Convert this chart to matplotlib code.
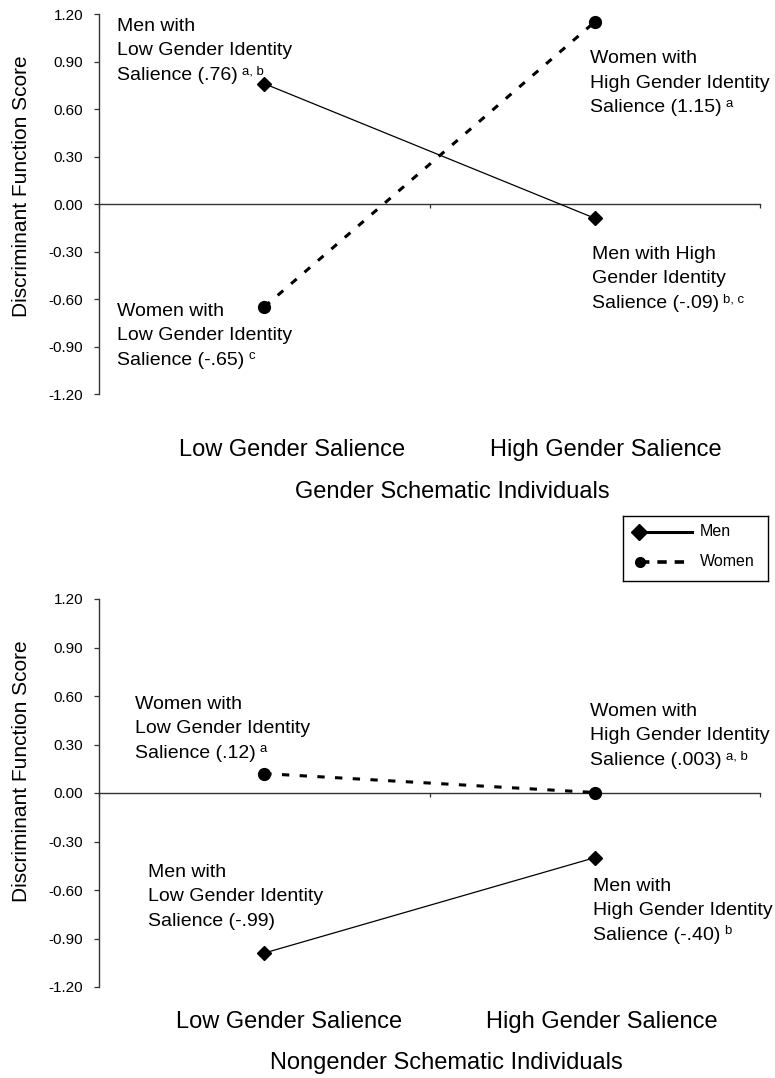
import matplotlib
matplotlib.use("Agg")
import matplotlib.pyplot as plt
from matplotlib.ticker import FixedLocator, FormatStrFormatter, NullFormatter

plt.rcParams['font.family'] = 'Liberation Sans'
plt.rcParams['axes.unicode_minus'] = False

# data
conditions = ['Low Gender Salience', 'High Gender Salience']
schematic_men = [0.76, -0.09]
schematic_women = [-0.65, 1.15]
nonschematic_men = [-0.99, -0.40]
nonschematic_women = [0.12, 0.003]
y_ticks = [-1.2, -0.9, -0.6, -0.3, 0.0, 0.3, 0.6, 0.9, 1.2]

# (label lines, superscript)
schematic_notes = [
    (['Men with', 'Low Gender Identity', 'Salience (.76)'], 'a, b'),
    (['Women with', 'High Gender Identity', 'Salience (1.15)'], 'a'),
    (['Men with High', 'Gender Identity', 'Salience (-.09)'], 'b, c'),
    (['Women with', 'Low Gender Identity', 'Salience (-.65)'], 'c'),
]
nonschematic_notes = [
    (['Women with', 'Low Gender Identity', 'Salience (.12)'], 'a'),
    (['Women with', 'High Gender Identity', 'Salience (.003)'], 'a, b'),
    (['Men with', 'Low Gender Identity', 'Salience (-.99)'], ''),
    (['Men with', 'High Gender Identity', 'Salience (-.40)'], 'b'),
]

W, H = 775, 1078
fig = plt.figure(figsize=(W / 100, H / 100), dpi=100)


def px_axes(left, top, right, bottom):
    return fig.add_axes([left / W, 1 - bottom / H, (right - left) / W, (bottom - top) / H])


def draw_panel(ax, men, women, notes, note_pos, cat_pos, title_pos, title):
    x = [0, 1]
    ax.plot(x, men, color='black', lw=0.9, marker='D', ms=7.5, zorder=3)
    ax.plot(x, women, color='black', lw=2.2, ls=(0, (2.4, 3.4)), marker='o', ms=8.5, zorder=3)

    ax.set_xlim(-0.5, 1.5)
    ax.set_ylim(-1.2, 1.2)
    ax.yaxis.set_major_locator(FixedLocator(y_ticks))
    ax.yaxis.set_major_formatter(FormatStrFormatter('%.2f'))
    ax.xaxis.set_major_locator(FixedLocator([-0.5, 0.5, 1.5]))
    ax.xaxis.set_major_formatter(NullFormatter())
    ax.tick_params(axis='y', length=3.5, width=0.9, color='#333333', labelsize=11, pad=8)
    ax.tick_params(axis='x', length=3, width=0.9, color='#333333')
    for s in ['top', 'right']:
        ax.spines[s].set_visible(False)
    ax.spines['bottom'].set_position(('data', 0))
    for s in ['left', 'bottom']:
        ax.spines[s].set_color('#333333')
        ax.spines[s].set_linewidth(1.0)

    for (lines, sup), (tx, ty) in zip(notes, note_pos):
        last = None
        for i, line in enumerate(lines):
            last = ax.annotate(line, xy=(tx, ty), xycoords='axes fraction',
                               xytext=(0, -i * 17.6), textcoords='offset points',
                               ha='left', va='top', fontsize=14)
        if sup:
            ax.annotate(sup, xy=(1, 1), xycoords=last, xytext=(3, 1),
                        textcoords='offset points', ha='left', va='top', fontsize=9.5)

    for lab, (cx, cy) in zip(conditions, cat_pos):
        ax.text(cx, cy, lab, transform=ax.transAxes, ha='center', va='center', fontsize=17)
    ax.text(title_pos[0], title_pos[1], title, transform=ax.transAxes,
            ha='center', va='center', fontsize=17)


ax1 = px_axes(99, 14, 760, 394)
draw_panel(ax1, schematic_men, schematic_women, schematic_notes,
           [(0.027, 0.9895), (0.743, 0.905), (0.746, 0.3895), (0.027, 0.2395)],
           [(0.292, -0.147), (0.766, -0.147)], (0.534, -0.258),
           'Gender Schematic Individuals')
fig.text(22 / W, 1 - 186 / H, 'Discriminant Function Score', rotation=90,
         ha='center', va='center', fontsize=15)

ax2 = px_axes(99, 599, 760, 987)
draw_panel(ax2, nonschematic_men, nonschematic_women, nonschematic_notes,
           [(0.0545, 0.750), (0.743, 0.732), (0.074, 0.317), (0.747, 0.281)],
           [(0.288, -0.090), (0.761, -0.090)], (0.526, -0.196),
           'Nongender Schematic Individuals')
fig.text(22 / W, 1 - 771 / H, 'Discriminant Function Score', rotation=90,
         ha='center', va='center', fontsize=15)

# legend box
lax = px_axes(623, 516, 768, 581)
lax.set_xlim(0, 145)
lax.set_ylim(65, 0)
lax.set_xticks([])
lax.set_yticks([])
for s in lax.spines.values():
    s.set_linewidth(1.0)
    s.set_color('black')
lax.plot([16, 69], [16, 16], color='black', lw=2.2, marker='D', ms=8, markevery=[0])
lax.plot([17, 62], [46, 46], color='black', lw=2.6, ls=(0, (2.6, 2.2)), marker='o', ms=7, markevery=[0])
lax.text(77, 16, 'Men', fontsize=11.5, va='center', ha='left')
lax.text(77, 46, 'Women', fontsize=11.5, va='center', ha='left')

fig.savefig('out.png', dpi=100)
